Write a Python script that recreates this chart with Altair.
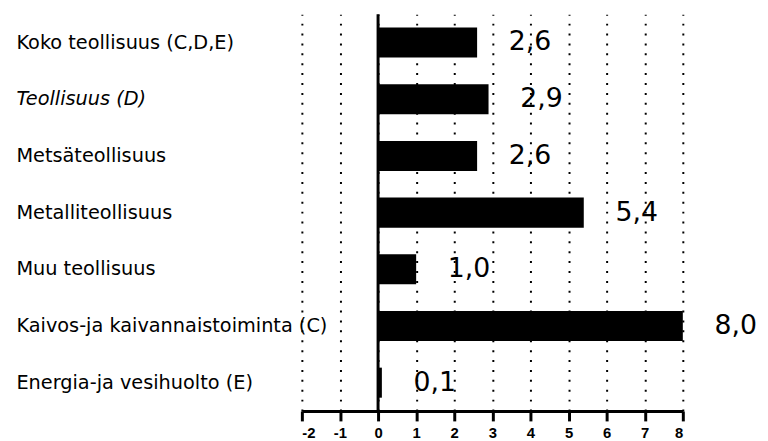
import altair as alt
import pandas as pd

categories = [
    "Koko teollisuus (C,D,E)",
    "Teollisuus (D)",
    "Metsäteollisuus",
    "Metalliteollisuus",
    "Muu teollisuus",
    "Kaivos-ja kaivannaistoiminta (C)",
    "Energia-ja vesihuolto (E)",
]
values = [2.6, 2.9, 2.6, 5.4, 1.0, 8.0, 0.1]
value_labels = ["2,6", "2,9", "2,6", "5,4", "1,0", "8,0", "0,1"]
x_ticks = [-2, -1, 0, 1, 2, 3, 4, 5, 6, 7, 8]

df = pd.DataFrame({"category": categories, "value": values, "label": value_labels})
df["zero"] = 0

xscale = alt.Scale(domain=[-2, 8], nice=False)
yscale = alt.Scale(domain=categories, paddingInner=0.47, paddingOuter=0.235)

italic_cond = {
    "condition": {"test": "datum.value == 'Teollisuus (D)'", "value": "italic"},
    "value": "normal",
}

x_axis = alt.Axis(
    values=x_ticks,
    labelOverlap=False,
    title=None,
    grid=True,
    gridDash=[2, 8],
    gridColor="black",
    gridWidth=2,
    gridOpacity=1,
    domainColor="black",
    domainWidth=3,
    tickColor="black",
    tickWidth=3,
    tickSize=10,
    labelFont="Liberation Sans",
    labelFontWeight="bold",
    labelFontSize=15,
    labelColor="black",
    labelPadding=5,
    labelExpr="'' + datum.value",
)

y_axis = alt.Axis(
    title=None,
    domain=False,
    ticks=False,
    grid=False,
    labelAlign="left",
    labelBaseline="middle",
    labelPadding=289,
    labelLimit=400,
    labelFont="DejaVu Sans",
    labelFontSize=19.5,
    labelColor="black",
    labelFontStyle=italic_cond,
)

base = alt.Chart(df).encode(
    x=alt.X("value:Q", scale=xscale, axis=x_axis),
    y=alt.Y("category:N", scale=yscale, sort=categories, axis=y_axis),
)

bars = base.mark_bar(color="black").encode(x2="zero:Q")

texts = base.mark_text(
    align="left", baseline="middle", dx=32, font="DejaVu Sans", fontSize=27, color="black"
).encode(text="label:N")

zero_line = alt.Chart(pd.DataFrame({"x": [0]})).mark_rule(color="black", strokeWidth=3).encode(
    x=alt.X("x:Q", scale=xscale, axis=x_axis)
)

chart = alt.layer(bars, zero_line, texts).properties(
    width=385,
    height=401,
    padding={"left": 297, "top": 4, "right": 78, "bottom": 28},
    autosize=alt.AutoSizeParams(type="none"),
).configure_view(stroke=None)

chart.save("out.html", embed_options={"renderer": "svg", "actions": False})
